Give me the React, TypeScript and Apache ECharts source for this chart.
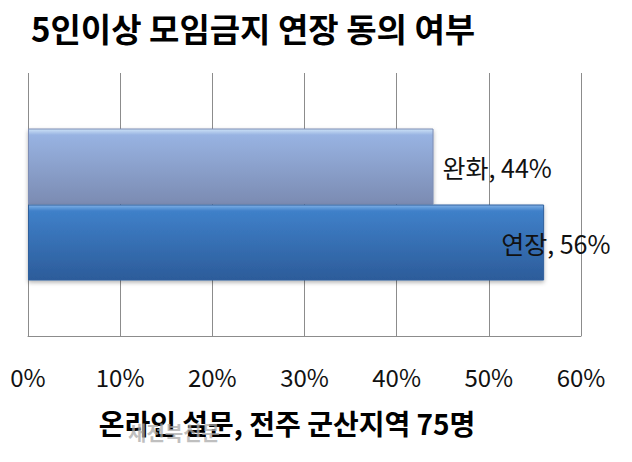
import { useEffect, useRef } from 'react';
import * as echarts from 'echarts';

// ─── Data ─────────────────────────────────────────────────────────────────────

const TITLE = '5인이상 모임금지 연장 동의 여부';
const AXIS_NAME = '온라인 설문, 전주 군산지역 75명';
const WATERMARK = '새전북신문';

const categories = [''];
const seriesNames = ['완화', '연장'];
const relaxValues = [44];
const extendValues = [56];

const FONT = '"Noto Sans CJK KR", "Noto Sans", sans-serif';

// ─── Option builder ───────────────────────────────────────────────────────────

function gradient(top: string, mid: string, bottom: string) {
  return new echarts.graphic.LinearGradient(0, 0, 0, 1, [
    { offset: 0, color: top },
    { offset: 0.08, color: mid },
    { offset: 1, color: bottom },
  ]);
}

function buildOption(): echarts.EChartsOption {
  const label = (offsetX: number) => ({
    show: true,
    position: 'right' as const,
    distance: 9,
    offset: [offsetX, 0],
    formatter: '{a}, {c}%',
    color: '#111',
    fontFamily: FONT,
    fontSize: 25,
  });

  return {
    animation: false,
    backgroundColor: '#fff',
    title: {
      text: TITLE,
      left: 31,
      top: 8,
      padding: 0,
      textStyle: {
        fontFamily: FONT,
        fontWeight: 'bold',
        fontSize: 33,
        lineHeight: 40,
        color: '#000',
      },
    },
    grid: { left: 28, right: 51, top: 73, bottom: 126, containLabel: false },
    xAxis: {
      type: 'value',
      min: 0,
      max: 60,
      interval: 10,
      name: AXIS_NAME,
      nameLocation: 'middle',
      nameGap: 73,
      nameTextStyle: {
        fontFamily: FONT,
        fontWeight: 'bold',
        fontSize: 28,
        color: '#000',
        padding: [0, 35, 0, 0],
      },
      axisLine: { show: true, lineStyle: { color: '#8c8c8c', width: 1 } },
      axisTick: { show: false },
      axisLabel: {
        margin: 28,
        fontFamily: FONT,
        fontSize: 24,
        color: '#111',
        formatter: '{value}%',
      },
      splitLine: { show: true, lineStyle: { color: '#8c8c8c', width: 1 } },
    },
    yAxis: {
      type: 'category',
      data: categories,
      axisLine: { show: false },
      axisTick: { show: false },
      axisLabel: { show: false },
      splitLine: { show: false },
    },
    series: [
      {
        name: seriesNames[0],
        type: 'bar',
        data: relaxValues,
        barWidth: 76,
        barGap: '0%',
        itemStyle: {
          color: gradient('#cde2f7', '#98b3e2', '#7b8bb2'),
          borderColor: '#7d8db5',
          borderWidth: 1,
          shadowBlur: 4,
          shadowColor: 'rgba(0,0,0,0.3)',
          shadowOffsetY: 2,
        },
        label: label(0),
      },
      {
        name: seriesNames[1],
        type: 'bar',
        data: extendValues,
        barWidth: 76,
        barGap: '0%',
        itemStyle: {
          color: gradient('#7fb0e6', '#3f80c9', '#2c5c9a'),
          borderColor: '#2f5f9c',
          borderWidth: 1,
          shadowBlur: 4,
          shadowColor: 'rgba(0,0,0,0.3)',
          shadowOffsetY: 2,
        },
        label: label(-52),
      },
    ],
    graphic: [
      {
        type: 'text',
        left: 128,
        top: 422,
        z: 100,
        style: {
          text: WATERMARK,
          fontFamily: FONT,
          fontWeight: 'bold',
          fontSize: 20,
          fill: 'rgba(170,170,170,0.75)',
        },
      },
    ],
  };
}

// ─── Chart ────────────────────────────────────────────────────────────────────

export default function App() {
  const containerRef = useRef<HTMLDivElement>(null);

  useEffect(() => {
    if (!containerRef.current) return;
    const chart = echarts.init(containerRef.current, null, { renderer: 'svg' });
    chart.setOption(buildOption());
    return () => chart.dispose();
  }, []);

  return (
    <div
      ref={containerRef}
      style={{ position: 'fixed', left: 0, top: 0, width: 632, height: 462, background: '#fff' }}
    />
  );
}
